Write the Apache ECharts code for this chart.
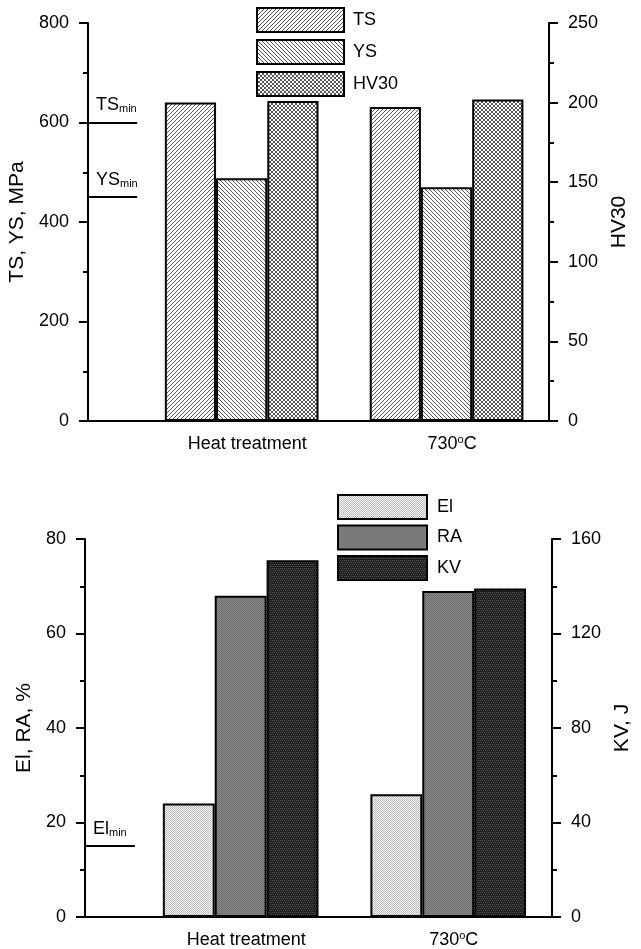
<!DOCTYPE html>
<html>
<head>
<meta charset="utf-8">
<script src="https://cdn.jsdelivr.net/npm/echarts@6/dist/echarts.min.js"></script>
<style>
  html, body { margin: 0; padding: 0; background: #fff; }
  #chart { width: 641px; height: 949px; }
</style>
</head>
<body>
<div id="chart"></div>
<script>
// values
const groupNames = ['Heat treatment', '730°C'];
const groupPos = [1, 2];

// upper panel
const tsVals = [640, 631];
const ysVals = [488, 470];
const hv30Vals = [201, 202];
const tsMin = 600;
const ysMin = 450;

// lower panel
const elVals = [24, 26];
const raVals = [68, 69];
const kvVals = [151, 139];
const elMin = 15;

const font = '"Liberation Sans", Arial, sans-serif';

// small repeating fills, like the hatches of the original plot
function makePattern(size, bg, fg, cells) {
	const c = document.createElement('canvas');
	c.width = size;
	c.height = size;
	const ctx = c.getContext('2d');
	ctx.fillStyle = bg;
	ctx.fillRect(0, 0, size, size);
	ctx.fillStyle = fg;
	cells.forEach(p => ctx.fillRect(p[0], p[1], 1, 1));
	return { image: c, repeat: 'repeat' };
}

const fillTS = makePattern(4, '#ffffff', '#555555', [[3, 0], [2, 1], [1, 2], [0, 3]]);
const fillYS = makePattern(4, '#ffffff', '#555555', [[0, 0], [1, 1], [2, 2], [3, 3]]);
const fillHV = makePattern(4, '#ffffff', '#555555', [[0, 0], [1, 1], [2, 2], [3, 3], [3, 0], [2, 1], [1, 2], [0, 3]]);
const fillEl = makePattern(2, '#f4f4f4', '#bdbdbd', [[0, 0], [1, 1]]);
const fillRA = makePattern(2, '#858585', '#707070', [[0, 0], [1, 1]]);
const fillKV = makePattern(4, '#1e1e1e', '#555555', [[0, 0], [2, 0], [1, 2], [3, 2]]);

function pairs(vals) {
	return vals.map((v, i) => [groupPos[i], v]);
}

const minRich = {
	a: { fontSize: 18, fontFamily: font, color: '#000', lineHeight: 18, verticalAlign: 'top' },
	b: { fontSize: 11, fontFamily: font, color: '#000', lineHeight: 12, verticalAlign: 'bottom', padding: [12, 0, 0, 0] }
};

// short "min" reference line(s) that start at the left axis.
// put on the middle bar of a group, so the bar offset doesn't shift it
function minLines(items) {
	return {
		silent: true,
		symbol: ['none', 'none'],
		lineStyle: { color: '#000', width: 2, type: 'solid' },
		label: { show: true, position: 'insideStartTop', distance: 8, rich: minRich },
		data: items.map(it => [
			{ coord: [0.25, it[0]], label: { formatter: '{a|' + it[1] + '}{b|min}' } },
			{ coord: [0.49, it[0]] }
		])
	};
}

const axisColor = { color: '#000', width: 2 };

function yAxisOf(gridIndex, position, max, interval, name, nameGap, namePad) {
	return {
		type: 'value',
		gridIndex: gridIndex,
		position: position,
		min: 0,
		max: max,
		interval: interval,
		name: name,
		nameLocation: 'middle',
		nameRotate: 90,
		nameGap: nameGap,
		nameTextStyle: { color: '#000', fontSize: 21, fontFamily: font, padding: namePad },
		axisLine: { show: true, onZero: false, lineStyle: axisColor },
		axisTick: { show: true, length: 9, lineStyle: axisColor },
		minorTick: { show: true, splitNumber: 2, length: 5, lineStyle: axisColor },
		splitLine: { show: false },
		axisLabel: { color: '#000', fontSize: 18, fontFamily: font, margin: 19 }
	};
}

function xAxisOf(gridIndex) {
	return {
		type: 'value',
		gridIndex: gridIndex,
		min: 0.25,
		max: 2.5,
		axisLine: { show: true, onZero: false, lineStyle: axisColor },
		axisTick: { show: false },
		splitLine: { show: false },
		axisLabel: {
			customValues: groupPos,
			margin: 13,
			padding: [0, 0, 0, 11],
			formatter: function(v) {
				const name = groupNames[groupPos.indexOf(v)] || '';
				return name.split('°').map(s => '{n|' + s + '}').join('{s|o}');
			},
			rich: {
				n: { fontSize: 18, fontFamily: font, color: '#000', lineHeight: 20 },
				s: { fontSize: 11, fontFamily: font, color: '#000', lineHeight: 11, verticalAlign: 'top', padding: [0, 0, 9, 0] }
			}
		}
	};
}

function barSeries(name, vals, fill, xIdx, yIdx, extra) {
	return Object.assign({
		type: 'bar',
		name: name,
		xAxisIndex: xIdx,
		yAxisIndex: yIdx,
		barWidth: '25%',
		barGap: '0%',
		data: pairs(vals),
		itemStyle: { color: fill, borderColor: '#000', borderWidth: 2 }
	}, extra || {});
}

const legendText = { color: '#000', fontSize: 18, fontFamily: font, padding: [0, 0, 0, 4] };

const chart = echarts.init(document.getElementById('chart'), null, { renderer: 'canvas' });
chart.setOption({
	backgroundColor: '#fff',
	animation: false,
	grid: [
		{ left: 88, top: 23, width: 461, height: 398, containLabel: false, outerBoundsMode: 'none' },
		{ left: 85, top: 539, width: 467, height: 378, containLabel: false, outerBoundsMode: 'none' }
	],
	legend: [
		{
			data: ['TS', 'YS', 'HV30'],
			orient: 'vertical',
			left: 256,
			top: 7,
			padding: 0,
			itemWidth: 87,
			itemHeight: 24,
			itemGap: 6,
			icon: 'rect',
			selectedMode: false,
			textStyle: legendText
		},
		{
			data: ['El', 'RA', 'KV'],
			orient: 'vertical',
			left: 337,
			top: 494,
			padding: 0,
			itemWidth: 89,
			itemHeight: 24,
			itemGap: 4.5,
			icon: 'rect',
			selectedMode: false,
			textStyle: Object.assign({}, legendText, { padding: [0, 0, 0, 5] })
		}
	],
	xAxis: [xAxisOf(0), xAxisOf(1)],
	yAxis: [
		yAxisOf(0, 'left', 800, 200, 'TS, YS, MPa', 50, [10, 0, 0, 0]),
		yAxisOf(0, 'right', 250, 50, 'HV30', 50, [0, 0, 0, 0]),
		yAxisOf(1, 'left', 80, 20, 'El, RA, %', 50, [6, 0, 0, 0]),
		yAxisOf(1, 'right', 160, 40, 'KV, J', 60, [0, 0, 0, 0])
	],
	series: [
		barSeries('TS', tsVals, fillTS, 0, 0),
		barSeries('YS', ysVals, fillYS, 0, 0, { markLine: minLines([[tsMin, 'TS'], [ysMin, 'YS']]) }),
		barSeries('HV30', hv30Vals, fillHV, 0, 1),
		barSeries('El', elVals, fillEl, 1, 2),
		barSeries('RA', raVals, fillRA, 1, 2, { markLine: minLines([[elMin, 'El']]) }),
		barSeries('KV', kvVals, fillKV, 1, 3)
	]
});
</script>
</body>
</html>
